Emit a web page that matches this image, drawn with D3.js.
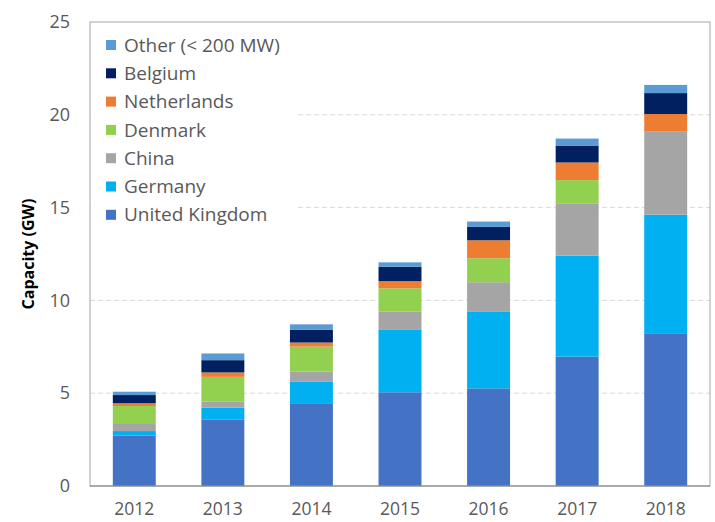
<!DOCTYPE html>
<html><head><meta charset="utf-8">
<script src="https://cdn.jsdelivr.net/npm/d3@7"></script>
<style>body{margin:0;background:#fff;} svg{display:block;}</style>
</head><body>
<svg id="c" width="715" height="522"></svg>
<script>
const years = ["2012","2013","2014","2015","2016","2017","2018"];
const seriesNames = ["United Kingdom","Germany","China","Denmark","Netherlands","Belgium","Other (< 200 MW)"];
const unitedKingdom = [2.71, 3.59, 4.46, 5.05, 5.26, 6.97, 8.23];
const germany       = [0.25, 0.63, 1.15, 3.36, 4.12, 5.44, 6.39];
const china         = [0.38, 0.32, 0.55, 0.98, 1.60, 2.82, 4.47];
const denmark       = [0.97, 1.34, 1.35, 1.26, 1.29, 1.25, 0.00];
const netherlands   = [0.15, 0.24, 0.22, 0.39, 0.97, 0.95, 0.95];
const belgium       = [0.44, 0.66, 0.68, 0.77, 0.72, 0.89, 1.13];
const other         = [0.18, 0.36, 0.30, 0.24, 0.29, 0.40, 0.44];
const yTicks = [0, 5, 10, 15, 20, 25];
const colors = ["#4472C4","#00B0F0","#A5A5A5","#92D050","#ED7D31","#002060","#5B9BD5"];

const seriesValues = [unitedKingdom, germany, china, denmark, netherlands, belgium, other];
const table = years.map((y, i) => {
  const row = {year: y};
  seriesNames.forEach((s, j) => row[s] = seriesValues[j][i]);
  return row;
});

const svg = d3.select("#c");
const L = 90, R = 710, T = 22, B = 486;
const x = d3.scaleBand().domain(years).range([L, R]).paddingInner(0.515).paddingOuter(0.2575);
const y = d3.scaleLinear().domain([0, 25]).range([B, T]);
const font = "'Open Sans', 'Liberation Sans', sans-serif";

// gridlines
svg.append("g").selectAll("line").data(yTicks.filter(t => t > 0 && t < 25)).join("line")
  .attr("x1", L).attr("x2", R).attr("y1", d => y(d)).attr("y2", d => y(d))
  .attr("stroke", "#D9D9D9").attr("stroke-width", 1).attr("stroke-dasharray", "5,3");

// bars
const stack = d3.stack().keys(seriesNames)(table);
svg.append("g").selectAll("g").data(stack).join("g")
  .attr("fill", (d, i) => colors[i])
  .selectAll("rect").data(d => d).join("rect")
  .attr("x", d => x(d.data.year))
  .attr("width", x.bandwidth())
  .attr("y", d => y(d[1]))
  .attr("height", d => Math.max(0, y(d[0]) - y(d[1])));

// legend background
svg.append("rect").attr("x", L + 1).attr("y", T + 1).attr("width", 205).attr("height", 206).attr("fill", "#fff");

// frame
svg.append("rect").attr("x", L).attr("y", T).attr("width", R - L).attr("height", B - T)
  .attr("fill", "none").attr("stroke", "#A6A6A6").attr("stroke-width", 1);
svg.append("line").attr("x1", L).attr("x2", R).attr("y1", B).attr("y2", B).attr("stroke", "#808080");

// axes
const yAxis = d3.axisLeft(y).tickValues(yTicks).tickSize(0).tickPadding(20);
const gy = svg.append("g").attr("transform", `translate(${L},0)`).call(yAxis);
gy.select(".domain").remove();
gy.selectAll("text").attr("font-family", font).attr("font-size", 18).attr("fill", "#595959");

const xAxis = d3.axisBottom(x).tickSize(0).tickPadding(17);
const gx = svg.append("g").attr("transform", `translate(0,${B})`).call(xAxis);
gx.select(".domain").remove();
gx.selectAll("text").attr("font-family", font).attr("font-size", 17.5).attr("fill", "#595959");

// y title
svg.append("text").attr("transform", `translate(34,${(T + B) / 2}) rotate(-90)`)
  .attr("text-anchor", "middle").attr("font-family", font).attr("font-weight", "bold")
  .attr("font-size", 16).attr("fill", "#000").text("Capacity (GW)");

// legend
const legendOrder = seriesNames.map((s, i) => ({name: s, color: colors[i]})).reverse();
const lg = svg.append("g").selectAll("g").data(legendOrder).join("g")
  .attr("transform", (d, i) => `translate(106,${45 + i * 28.3})`);
lg.append("rect").attr("x", 0).attr("y", -5).attr("width", 10).attr("height", 10).attr("fill", d => d.color);
lg.append("text").attr("x", 18).attr("y", 0).attr("dy", "0.35em")
  .attr("font-family", font).attr("font-size", 19).attr("fill", "#595959").text(d => d.name);
</script>
</body></html>
